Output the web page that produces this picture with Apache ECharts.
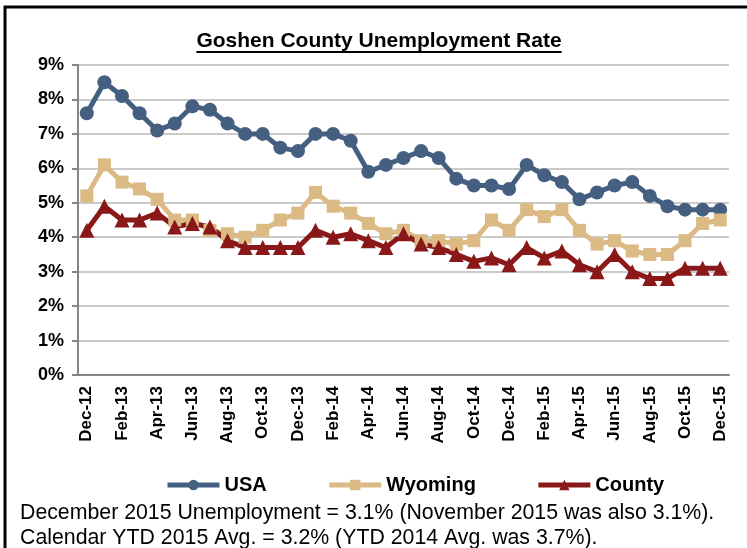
<!DOCTYPE html>
<html>
<head>
<meta charset="utf-8">
<script src="https://cdn.jsdelivr.net/npm/echarts@6/dist/echarts.min.js"></script>
<style>
  html, body { margin: 0; padding: 0; background: #fff; }
  #chart { width: 747px; height: 548px; }
</style>
</head>
<body>
<div id="chart"></div>
<script>
// months Dec-12 .. Dec-15
const months = [
  'Dec-12', 'Jan-13', 'Feb-13', 'Mar-13', 'Apr-13', 'May-13', 'Jun-13', 'Jul-13', 'Aug-13',
  'Sep-13', 'Oct-13', 'Nov-13', 'Dec-13', 'Jan-14', 'Feb-14', 'Mar-14', 'Apr-14', 'May-14',
  'Jun-14', 'Jul-14', 'Aug-14', 'Sep-14', 'Oct-14', 'Nov-14', 'Dec-14', 'Jan-15', 'Feb-15',
  'Mar-15', 'Apr-15', 'May-15', 'Jun-15', 'Jul-15', 'Aug-15', 'Sep-15', 'Oct-15', 'Nov-15', 'Dec-15'
];

const usa = [
  7.6, 8.5, 8.1, 7.6, 7.1, 7.3, 7.8, 7.7, 7.3, 7.0, 7.0, 6.6, 6.5,
  7.0, 7.0, 6.8, 5.9, 6.1, 6.3, 6.5, 6.3, 5.7, 5.5, 5.5, 5.4,
  6.1, 5.8, 5.6, 5.1, 5.3, 5.5, 5.6, 5.2, 4.9, 4.8, 4.8, 4.8
];

const wyoming = [
  5.2, 6.1, 5.6, 5.4, 5.1, 4.5, 4.5, 4.2, 4.1, 4.0, 4.2, 4.5, 4.7,
  5.3, 4.9, 4.7, 4.4, 4.1, 4.2, 3.9, 3.9, 3.8, 3.9, 4.5, 4.2,
  4.8, 4.6, 4.8, 4.2, 3.8, 3.9, 3.6, 3.5, 3.5, 3.9, 4.4, 4.5
];

const county = [
  4.2, 4.9, 4.5, 4.5, 4.7, 4.3, 4.4, 4.3, 3.9, 3.7, 3.7, 3.7, 3.7,
  4.2, 4.0, 4.1, 3.9, 3.7, 4.1, 3.8, 3.7, 3.5, 3.3, 3.4, 3.2,
  3.7, 3.4, 3.6, 3.2, 3.0, 3.5, 3.0, 2.8, 2.8, 3.1, 3.1, 3.1
];

const titleText = 'Goshen County Unemployment Rate';
const noteLines = [
  'December 2015 Unemployment = 3.1% (November 2015 was also 3.1%).',
  'Calendar YTD 2015 Avg. = 3.2% (YTD 2014 Avg. was 3.7%).'
];

const font = "'Liberation Sans', Arial, sans-serif";

// measure title so the underline fits it
const ctx = document.createElement('canvas').getContext('2d');
ctx.font = 'bold 21px ' + font;
const titleW = ctx.measureText(titleText).width;
const titleX = 379;

const chart = echarts.init(document.getElementById('chart'));

function lineSeries(name, data, color, symbol, size) {
  return {
    name: name,
    type: 'line',
    data: data,
    symbol: symbol,
    symbolSize: size,
    showAllSymbol: true,
    color: color,
    lineStyle: { width: 5, color: color },
    itemStyle: { color: color },
    animation: false
  };
}

chart.setOption({
  backgroundColor: '#fff',
  textStyle: { fontFamily: font },
  grid: { left: 78, right: 18, top: 65, bottom: 173 },
  legend: {
    left: 160,
    top: 470,
    itemWidth: 52,
    itemHeight: 13,
    itemGap: 60,
    lineStyle: { width: 5 },
    textStyle: { fontSize: 20, fontWeight: 'bold', color: '#000', fontFamily: font },
    data: ['USA', 'Wyoming', 'County']
  },
  xAxis: {
    type: 'category',
    data: months,
    boundaryGap: true,
    axisLine: { lineStyle: { color: '#868686', width: 2 } },
    axisTick: { interval: 1, length: 6, lineStyle: { color: '#868686', width: 2 } },
    axisLabel: {
      interval: 1,
      rotate: 90,
      margin: 11,
      fontSize: 17,
      fontWeight: 'bold',
      color: '#000',
      fontFamily: font
    }
  },
  yAxis: {
    type: 'value',
    min: 0,
    max: 9,
    interval: 1,
    axisLine: { show: true, lineStyle: { color: '#868686', width: 2 } },
    axisTick: { show: true, length: 6, lineStyle: { color: '#868686', width: 2 } },
    axisLabel: {
      formatter: '{value}%',
      margin: 14,
      fontSize: 18,
      fontWeight: 'bold',
      color: '#000',
      fontFamily: font
    },
    splitLine: { lineStyle: { color: '#b8b8b8', width: 1.5 } }
  },
  series: [
    lineSeries('USA', usa, '#455f80', 'circle', 14),
    lineSeries('Wyoming', wyoming, '#dbba84', 'rect', 13),
    lineSeries('County', county, '#8a1818', 'triangle', 15)
  ],
  graphic: [
    {
      type: 'rect',
      shape: { x: 5, y: 7, width: 800, height: 600 },
      style: { fill: 'none', stroke: '#000', lineWidth: 3 },
      silent: true
    },
    {
      type: 'text',
      x: titleX,
      y: 41,
      style: {
        text: titleText,
        font: 'bold 21px ' + font,
        fill: '#000',
        textAlign: 'center',
        textVerticalAlign: 'middle'
      }
    },
    {
      type: 'line',
      shape: { x1: titleX - titleW / 2, y1: 52, x2: titleX + titleW / 2, y2: 52 },
      style: { stroke: '#000', lineWidth: 2 }
    },
    {
      type: 'text',
      x: 20,
      y: 513,
      style: {
        text: noteLines[0],
        font: '21.3px ' + font,
        fill: '#000',
        textAlign: 'left',
        textVerticalAlign: 'middle'
      }
    },
    {
      type: 'text',
      x: 20,
      y: 538,
      style: {
        text: noteLines[1],
        font: '21.3px ' + font,
        fill: '#000',
        textAlign: 'left',
        textVerticalAlign: 'middle'
      }
    }
  ]
});
</script>
</body>
</html>
